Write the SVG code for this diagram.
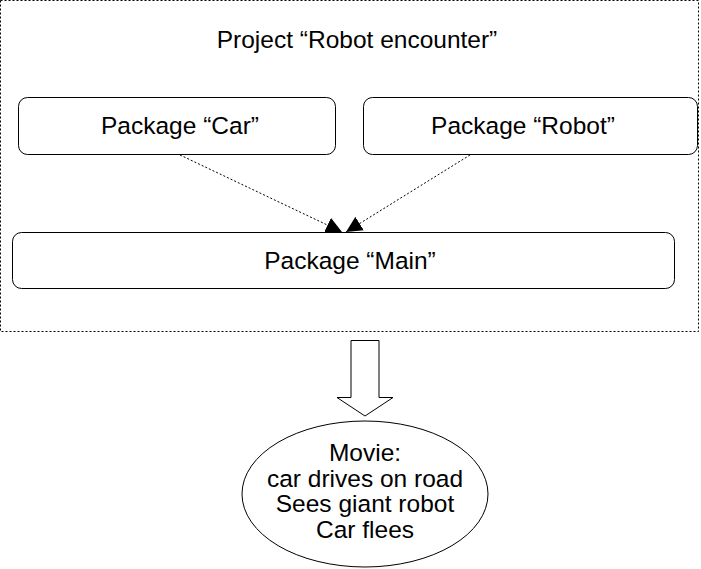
<svg xmlns="http://www.w3.org/2000/svg" width="701" height="569" viewBox="0 0 701 569">
<style>
text{font-family:"Liberation Sans",Arial,sans-serif;font-size:24.5px;fill:#000;text-anchor:middle}
.box{fill:#fff;stroke:#000;stroke-width:1}
.dep{fill:none;stroke:#000;stroke-width:1;stroke-dasharray:2,2}
</style>
<defs>
<marker id="ah" viewBox="0 0 10 10" refX="10" refY="5" markerWidth="16" markerHeight="16" markerUnits="userSpaceOnUse" orient="auto">
<path d="M0,0 L10,5 L0,10 z" fill="#000"/>
</marker>
</defs>
<rect width="701" height="569" fill="#fff"/>
<g id="project">
<rect x="0.5" y="0.5" width="698" height="331" fill="none" stroke="#000" stroke-dasharray="2,2"/>
<text x="357" y="48">Project “Robot encounter”</text>
</g>
<g id="car">
<rect class="box" x="18.5" y="97.5" width="317" height="57" rx="9"/>
<text x="180" y="134">Package “Car”</text>
</g>
<g id="robot">
<rect class="box" x="363.5" y="97.5" width="334" height="57" rx="9"/>
<text x="523" y="134">Package “Robot”</text>
</g>
<g id="main">
<rect class="box" x="12.5" y="232.5" width="662" height="56" rx="9"/>
<text x="350" y="269">Package “Main”</text>
</g>
<g id="connectors">
<line class="dep" x1="180" y1="155" x2="342" y2="232" marker-end="url(#ah)"/>
<line class="dep" x1="470" y1="155" x2="346" y2="232" marker-end="url(#ah)"/>
<path d="M351,340.5 H379 V397.5 H393 L365,416 L337,397.5 H351 Z" fill="#fff" stroke="#000"/>
</g>
<g id="movie">
<ellipse cx="365" cy="494" rx="123" ry="73" fill="#fff" stroke="#000"/>
<text x="365" y="461">Movie:</text>
<text x="365" y="487">car drives on road</text>
<text x="365" y="512">Sees giant robot</text>
<text x="365" y="538">Car flees</text>
</g>
</svg>
